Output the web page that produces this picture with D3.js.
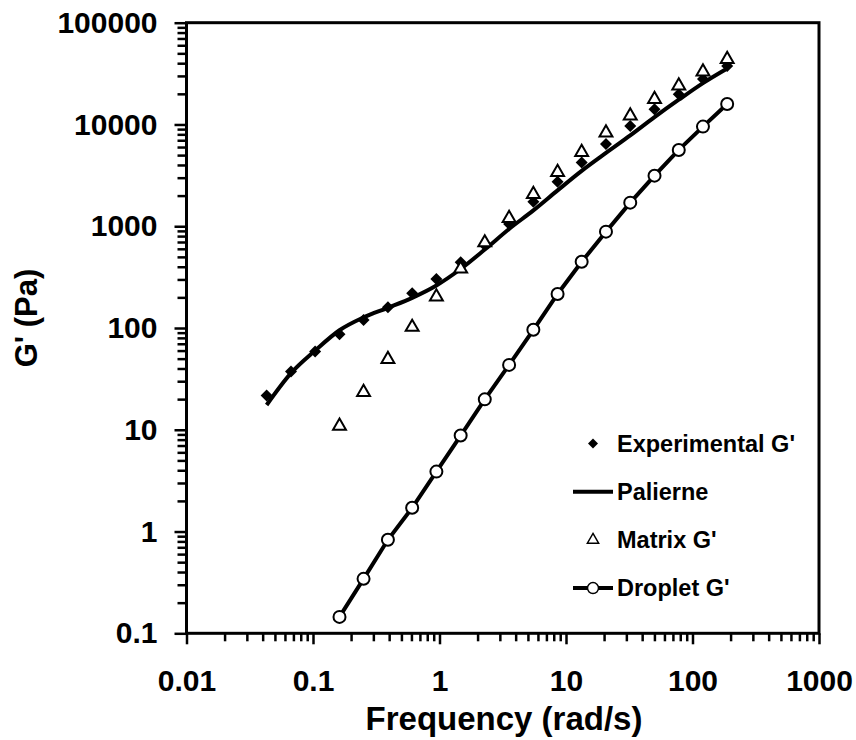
<!DOCTYPE html>
<html>
<head>
<meta charset="utf-8">
<script src="https://cdn.jsdelivr.net/npm/d3@7"></script>
<style>
  body { margin: 0; background: #fff; }
  svg { font-family: "Liberation Sans", Arial, sans-serif; font-weight: bold; }
</style>
</head>
<body>
<svg width="856" height="740"></svg>
<script>
// frequencies (rad/s)
var freq = [0.043, 0.067, 0.104, 0.162, 0.251, 0.391, 0.608, 0.945, 1.47, 2.28,
            3.55, 5.52, 8.58, 13.3, 20.7, 32.2, 50.1, 77.9, 121, 188];
var expG = [21.7, 37.3, 58.6, 86.9, 120, 160, 220, 303, 443, 650,
            1050, 1745, 2740, 4220, 6430, 9670, 14100, 19800, 28000, 37600];
var palierne = [17.5, 36, 60, 95, 127, 158, 198, 262, 380, 590,
                940, 1430, 2250, 3500, 5250, 7800, 11800, 17500, 25500, 35500];
// matrix and droplet start at the 4th frequency
var matrixG = [10.9, 23.4, 49.4, 102, 203, 381, 690, 1198, 2063, 3390,
               5330, 8300, 12200, 17700, 24000, 33000, 43700];
var dropletG = [0.145, 0.343, 0.83, 1.71, 3.88, 8.77, 19.9, 43.4, 96, 216,
                447, 885, 1706, 3140, 5620, 9530, 15900];
var xTicks = [0.01, 0.1, 1, 10, 100, 1000];
var yTicks = [0.1, 1, 10, 100, 1000, 10000, 100000];
var legendLabels = ["Experimental G'", "Palierne", "Matrix G'", "Droplet G'"];

var svg = d3.select("svg"),
    margin = {top: 22.7, right: 37, bottom: 106.7, left: 186.5},
    width = +svg.attr("width") - margin.left - margin.right,
    height = +svg.attr("height") - margin.top - margin.bottom,
    g = svg.append("g").attr("transform", "translate(" + margin.left + "," + margin.top + ")");

var x = d3.scaleLog().domain([0.01, 1000]).range([0, width]);
var y = d3.scaleLog().domain([0.1, 100000]).range([height, 0]);

function minors(ticks) {
  var out = [];
  ticks.slice(0, -1).forEach(function(t) {
    for (var k = 2; k < 10; k++) out.push(t * k);
  });
  return out;
}

// minor ticks
g.append("g")
    .attr("class", "axis")
    .attr("transform", "translate(0," + height + ")")
    .call(d3.axisBottom(x).tickValues(minors(xTicks)).tickSize(8).tickFormat(""));
g.append("g")
    .attr("class", "axis")
    .call(d3.axisLeft(y).tickValues(minors(yTicks)).tickSize(9).tickFormat(""));

// major ticks + labels
g.append("g")
    .attr("class", "axis")
    .attr("transform", "translate(0," + height + ")")
    .call(d3.axisBottom(x).tickValues(xTicks).tickSize(11).tickPadding(25)
      .tickFormat(function(d, i) { return String(xTicks[i]); }));
g.append("g")
    .attr("class", "axis")
    .call(d3.axisLeft(y).tickValues(yTicks).tickSize(12).tickPadding(17)
      .tickFormat(function(d, i) { return String(yTicks[i]); }));

g.selectAll(".axis .domain").remove();
g.selectAll(".axis line").attr("stroke", "#000").attr("stroke-width", 2.5);
g.selectAll(".axis text")
    .attr("fill", "#000")
    .attr("font-size", 30)
    .attr("font-weight", "bold")
    .attr("font-family", "Liberation Sans, Arial, sans-serif");

// frame
g.append("rect")
    .attr("width", width)
    .attr("height", height)
    .attr("fill", "none")
    .attr("stroke", "#000")
    .attr("stroke-width", 3);

var square = d3.symbol().type(d3.symbolSquare);
var tri = d3.symbol().type(d3.symbolTriangle);

// experimental diamonds (squares turned 45deg)
g.append("g").selectAll("path")
    .data(expG)
    .enter().append("path")
      .attr("transform", function(d, i) { return "translate(" + x(freq[i]) + "," + y(d) + ") rotate(45)"; })
      .attr("d", square.size(72))
      .attr("fill", "#000");

// palierne line
var smooth = d3.line()
    .x(function(d, i) { return x(freq[i]); })
    .y(function(d) { return y(d); })
    .curve(d3.curveMonotoneX);
g.append("path")
    .datum(palierne)
    .attr("d", smooth)
    .attr("fill", "none")
    .attr("stroke", "#000")
    .attr("stroke-width", 4);

// matrix triangles
g.append("g").selectAll("path")
    .data(matrixG)
    .enter().append("path")
      .attr("transform", function(d, i) { return "translate(" + x(freq[i + 3]) + "," + y(d) + ")"; })
      .attr("d", tri.size(72))
      .attr("fill", "#fff")
      .attr("stroke", "#000")
      .attr("stroke-width", 2);

// droplet line + circles
var straight = d3.line()
    .x(function(d, i) { return x(freq[i + 3]); })
    .y(function(d) { return y(d); });
g.append("path")
    .datum(dropletG)
    .attr("d", straight)
    .attr("fill", "none")
    .attr("stroke", "#000")
    .attr("stroke-width", 4);
g.append("g").selectAll("circle")
    .data(dropletG)
    .enter().append("circle")
      .attr("cx", function(d, i) { return x(freq[i + 3]); })
      .attr("cy", function(d) { return y(d); })
      .attr("r", 6)
      .attr("fill", "#fff")
      .attr("stroke", "#000")
      .attr("stroke-width", 2);

// legend
var legend = svg.append("g")
    .attr("font-size", 23.5)
  .selectAll("g")
  .data(legendLabels)
  .enter().append("g")
    .attr("transform", function(d, i) { return "translate(593,"+ (443.5 + i * 48.2) + ")"; });

legend.filter(function(d, i) { return i == 1 || i == 3; })
  .append("line")
    .attr("x1", -20).attr("x2", 20)
    .attr("stroke", "#000").attr("stroke-width", 4);
legend.filter(function(d, i) { return i == 0; })
  .append("path").attr("d", square.size(50)).attr("transform", "rotate(45)").attr("fill", "#000");
legend.filter(function(d, i) { return i == 2; })
  .append("path").attr("d", tri.size(55))
    .attr("fill", "#fff").attr("stroke", "#000").attr("stroke-width", 1.5);
legend.filter(function(d, i) { return i == 3; })
  .append("circle").attr("r", 5.5).attr("fill", "#fff").attr("stroke", "#000").attr("stroke-width", 1.5);
legend.append("text")
    .attr("x", 24)
    .attr("dy", "0.35em")
    .text(function(d) { return d; });

// axis titles
svg.append("text")
    .attr("x", 504)
    .attr("y", 730)
    .attr("text-anchor", "middle")
    .attr("font-size", 33)
    .text("Frequency (rad/s)");
svg.append("text")
    .attr("transform", "translate(37,318) rotate(-90)")
    .attr("text-anchor", "middle")
    .attr("font-size", 31)
    .text("G' (Pa)");
</script>
</body>
</html>
